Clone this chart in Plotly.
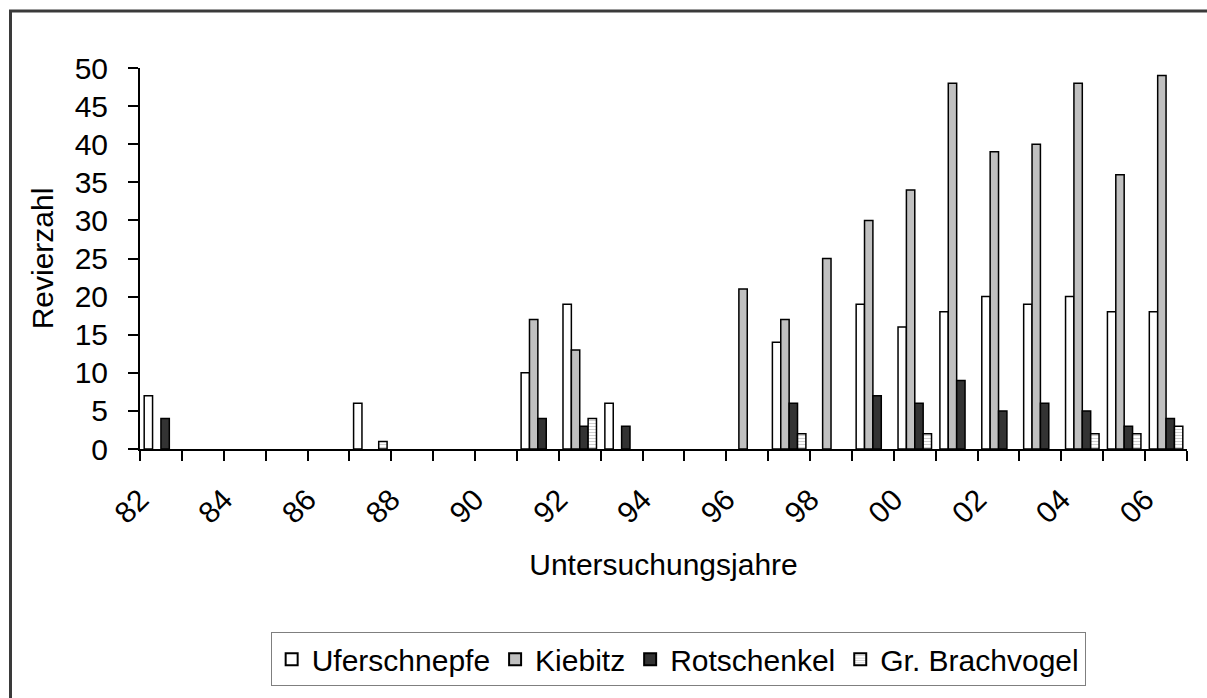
import plotly.graph_objects as go

# Survey years and territory counts per species
years = list(range(1982, 2007))
uferschnepfe = [7, 0, 0, 0, 0, 6, 0, 0, 0, 10, 19, 6, 0, 0, 0, 14, 0, 19, 16, 18, 20, 19, 20, 18, 18]
kiebitz = [0, 0, 0, 0, 0, 0, 0, 0, 0, 17, 13, 0, 0, 0, 21, 17, 25, 30, 34, 48, 39, 40, 48, 36, 49]
rotschenkel = [4, 0, 0, 0, 0, 0, 0, 0, 0, 4, 3, 3, 0, 0, 0, 6, 0, 7, 6, 9, 5, 6, 5, 3, 4]
brachvogel = [0, 0, 0, 0, 0, 1, 0, 0, 0, 0, 4, 0, 0, 0, 0, 2, 0, 0, 2, 0, 0, 0, 2, 2, 3]

label_years = years[::2]
label_text = [f"{y % 100:02d}" for y in label_years]

FONT = "Liberation Sans, Arial, sans-serif"
outline = dict(color="black", width=1.5)


def nonzero(values):
    # empty years get no bar at all
    return [v if v else None for v in values]


fig = go.Figure()
fig.add_bar(x=years, y=nonzero(uferschnepfe), name="Uferschnepfe",
            marker=dict(color="white", line=outline))
fig.add_bar(x=years, y=nonzero(kiebitz), name="Kiebitz",
            marker=dict(color="#c0c0c0", line=outline))
fig.add_bar(x=years, y=nonzero(rotschenkel), name="Rotschenkel",
            marker=dict(color="#333333", line=outline))
fig.add_bar(x=years, y=nonzero(brachvogel), name="Gr. Brachvogel",
            marker=dict(color="white", line=outline,
                        pattern=dict(shape="-", fgcolor="#a0a0a0", bgcolor="white",
                                     size=3, solidity=0.35)))

W, H = 1207, 698
L, R, T, B = 140, 20, 68, 249

fig.update_layout(
    width=W, height=H,
    margin=dict(l=L, r=R, t=T, b=B, pad=0),
    paper_bgcolor="white", plot_bgcolor="white",
    barmode="group", bargap=0.2, bargroupgap=0,
    font=dict(family=FONT, color="black", size=30),
    showlegend=True,
    legend=dict(
        orientation="h", x=0.514, xanchor="center", y=-0.481, yanchor="top",
        bordercolor="#7f7f7f", borderwidth=1, bgcolor="white",
        font=dict(family=FONT, size=30, color="black"),
        itemsizing="constant", traceorder="normal",
    ),
    xaxis=dict(
        range=[years[0] - 0.5, years[-1] + 0.5],
        tickmode="array", tickvals=[y - 0.5 for y in label_years], ticktext=label_text,
        tickangle=-45, ticks="", ticklabelstandoff=19,
        tickfont=dict(size=30),
        minor=dict(tick0=years[0] - 0.5, dtick=1, ticks="outside",
                   ticklen=10, tickwidth=2, tickcolor="black"),
        showline=True, linecolor="black", linewidth=2,
        showgrid=False, zeroline=False,
        title=dict(text="Untersuchungsjahre", font=dict(size=30), standoff=26),
    ),
    yaxis=dict(
        range=[0, 50], tickmode="linear", tick0=0, dtick=5,
        ticks="outside", ticklen=10, tickwidth=2, tickcolor="black",
        ticklabelstandoff=14,
        tickfont=dict(size=30),
        showline=True, linecolor="black", linewidth=2,
        showgrid=False, zeroline=False,
        title=dict(text="Revierzahl", font=dict(size=30), standoff=12),
    ),
)

# Chart frame (left and top edges fall inside the page)
pw, ph = W - L - R, H - T - B
fig.add_shape(type="rect", xref="paper", yref="paper",
              x0=(10.5 - L) / pw, x1=(W + 40 - L) / pw,
              y0=(H - B - (H + 40)) / ph, y1=(H - B - 11) / ph,
              line=dict(color="#3a3a3a", width=3), fillcolor="rgba(0,0,0,0)",
              layer="below")

fig.write_html("out.html")
